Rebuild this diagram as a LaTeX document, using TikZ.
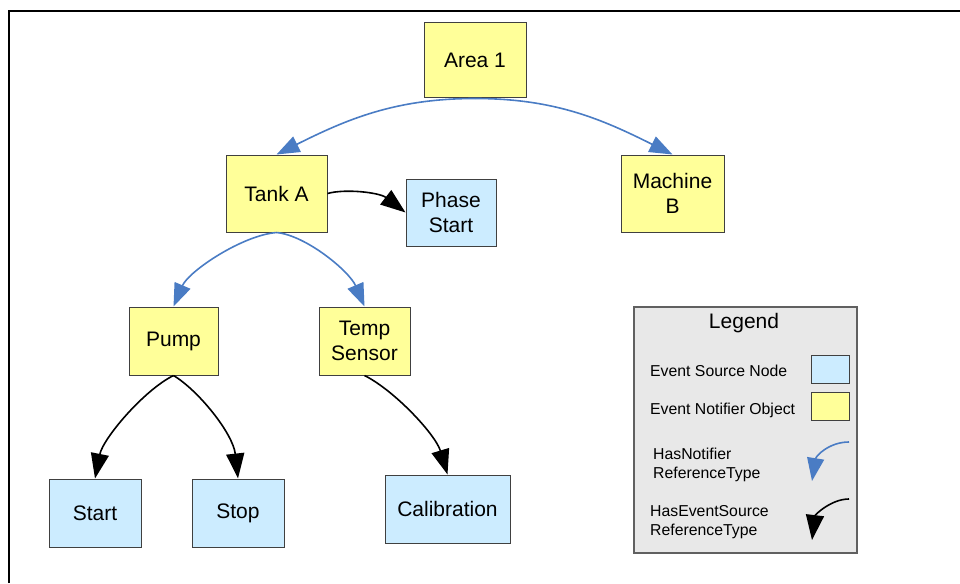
\documentclass[tikz,border=0pt]{standalone}
\usepackage{fontspec}
\setmainfont{Liberation Sans}
\usetikzlibrary{arrows.meta}
\definecolor{ny}{HTML}{FFFF99}
\definecolor{nb}{HTML}{CCECFF}
\definecolor{nbord}{HTML}{404040}
\definecolor{arblue}{HTML}{4A7CC4}
\definecolor{lgfill}{HTML}{E8E8E8}
\definecolor{lgbord}{HTML}{606060}
\begin{document}
\begin{tikzpicture}[x=1pt,y=-1pt,
 box/.style={draw=nbord,line width=1pt,inner sep=0pt,align=center,font=\fontsize{21}{25}\selectfont},
 notif/.style={box,fill=ny},
 evsrc/.style={box,fill=nb},
 hasnot/.style={draw=arblue,line width=1.6pt,-{Triangle[length=23pt,width=17pt]}},
 hasev/.style={draw=black,line width=1.6pt,-{Triangle[length=25pt,width=18pt]}},
 lgtext/.style={font=\fontsize{15.8}{19}\selectfont,anchor=base west,inner sep=0pt},
]
\useasboundingbox (0,0) rectangle (960,583);
\draw[line width=2pt] (9.3,583) -- (9.3,11.2) -- (960,11.2);

\node[notif,minimum width=102pt,minimum height=75pt] (area) at (475,60.5) {Area 1};
\node[notif,minimum width=101pt,minimum height=77pt] (tank) at (276.5,193.5) {Tank A};
\node[evsrc,minimum width=90pt,minimum height=67pt] (phase) at (451,212.5) {Phase\\Start};
\node[notif,minimum width=103pt,minimum height=77pt] (machine) at (672.5,193.5) {Machine\\B};
\node[notif,minimum width=89pt,minimum height=68pt] (pump) at (173.5,341) {Pump};
\node[notif,minimum width=91pt,minimum height=68pt] (temp) at (364.5,341) {Temp\\Sensor};
\node[evsrc,minimum width=92pt,minimum height=68pt] (start) at (95,513) {Start};
\node[evsrc,minimum width=92pt,minimum height=68pt] (stop) at (238,513) {Stop};
\node[evsrc,minimum width=125pt,minimum height=68pt] (calib) at (447.5,509) {Calibration};

\draw[hasnot] (area.south) .. controls +(-80,0) and +(70,-35) .. (tank.north);
\draw[hasnot] (area.south) .. controls +(80,0) and +(-70,-35) .. (machine.north);
\draw[hasev] (tank.east) .. controls +(18,-5) and +(-26,-20) .. (phase.west);
\draw[hasnot] (tank.south) .. controls +(-35,3) and +(15,-35) .. (pump.north);
\draw[hasnot] (tank.south) .. controls +(30,3) and +(-15,-35) .. (temp.north);
\draw[hasev] (pump.south) .. controls +(-30,15) and +(8,-40) .. (start.north);
\draw[hasev] (pump.south) .. controls +(25,15) and +(-5,-45) .. (stop.north);
\draw[hasev] (temp.south) .. controls +(30,15) and +(-12,-40) .. (calib.north);

\node[draw=lgbord,fill=lgfill,line width=1.2pt,minimum width=223pt,minimum height=246pt,inner sep=0pt] (legend) at (745.5,430) {};
\node[font=\fontsize{21}{25}\selectfont,anchor=base,inner sep=0pt] (lgtitle) at (744,328) {Legend};
\node[evsrc,minimum width=38pt,minimum height=28pt] (lgsrc) at (830,369) {};
\node[notif,minimum width=38pt,minimum height=28pt] (lgnot) at (830,406) {};
\node[lgtext] (lgt1) at (650,376) {Event Source Node};
\node[lgtext] (lgt2) at (650,414) {Event Notifier Object};
\node[lgtext] (lgt3a) at (653,459) {HasNotifier};
\node[lgtext] (lgt3b) at (653,478) {ReferenceType};
\node[lgtext] (lgt4a) at (650,516) {HasEventSource};
\node[lgtext] (lgt4b) at (650,535) {ReferenceType};
\coordinate (lnA) at (849,442);
\coordinate (lnB) at (812,481);
\coordinate (leA) at (849,499);
\coordinate (leB) at (812,540);
\draw[hasnot] (lnA) .. controls +(-20,0) and +(4,-25) .. (lnB);
\draw[hasev] (leA) .. controls +(-18,0) and +(3,-25) .. (leB);
\end{tikzpicture}
\end{document}
